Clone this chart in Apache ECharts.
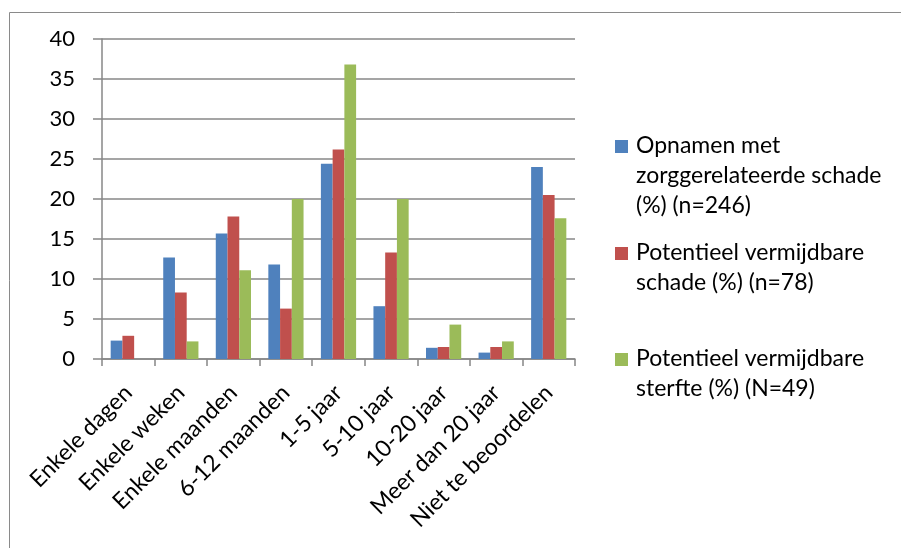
<!DOCTYPE html>
<html>
<head>
<meta charset="utf-8">
<script src="https://cdn.jsdelivr.net/npm/echarts@6/dist/echarts.min.js"></script>
<style>
html,body{margin:0;padding:0;background:#fff;}
#chart{width:901px;height:548px;}
</style>
</head>
<body>
<div id="chart"></div>
<script>
const categories = ["Enkele dagen","Enkele weken","Enkele maanden","6-12 maanden","1-5 jaar","5-10 jaar","10-20 jaar","Meer dan 20 jaar","Niet te beoordelen"];
const seriesNames = ["Opnamen met zorggerelateerde schade (%) (n=246)","Potentieel vermijdbare schade (%) (n=78)","Potentieel vermijdbare sterfte (%) (N=49)"];
const opnamen = [2.3, 12.7, 15.7, 11.8, 24.4, 6.6, 1.4, 0.8, 24.0];
const schade = [2.9, 8.3, 17.8, 6.3, 26.2, 13.3, 1.5, 1.5, 20.5];
const sterfte = [0, 2.2, 11.1, 20.0, 36.8, 20.0, 4.3, 2.2, 17.6];
const legendLines = [
  ["Opnamen met","zorggerelateerde schade","(%) (n=246)"],
  ["Potentieel vermijdbare","schade (%) (n=78)"],
  ["Potentieel vermijdbare","sterfte (%) (N=49)"]
];
const colors = ["#4F81BD","#C0504D","#9BBB59"];
const FONT = "Lato";
const GRID = "#878787";

const chart = echarts.init(document.getElementById('chart'), null, {renderer:'canvas'});
const legendTops = [146, 253, 359];
const legendGraphics = legendLines.map((lines, i) => ({
  type:'group', left: 615, top: legendTops[i] - 15,
  children:[
    {type:'rect', shape:{x:0, y:9, width:13, height:13}, style:{fill:colors[i]}},
    {type:'text', x:21, y:0, style:{text: lines.join('\n'), font: '23px "'+FONT+'"', lineHeight:30, fill:'#000', verticalAlign:'top'}}
  ]
}));

const mk = (data, i) => ({
  name: seriesNames[i], type:'bar', data: data,
  barGap: '0%', barCategoryGap: '33%',
  itemStyle:{color: colors[i]},
  emphasis:{disabled:true}
});

chart.setOption({
  animation:false,
  textStyle:{fontFamily:FONT},
  legend:{show:false},
  grid:{left:102, right:326, top:39, bottom:189, containLabel:false},
  xAxis:{
    type:'category', data: categories,
    axisLine:{show:true, lineStyle:{color:GRID, width:1.5}},
    axisTick:{show:true, length:7, alignWithLabel:false, lineStyle:{color:GRID, width:1.5}},
    axisLabel:{rotate:45, margin:30, fontSize:23, color:'#000', fontFamily:FONT, interval:0}
  },
  yAxis:{
    type:'value', min:0, max:40, interval:5,
    axisLine:{show:true, lineStyle:{color:GRID, width:1.5}},
    axisTick:{show:true, length:9, lineStyle:{color:GRID, width:1.5}},
    splitLine:{show:true, lineStyle:{color:GRID, width:1.5}},
    axisLabel:{fontSize:22, color:'#000', fontFamily:FONT, margin:27}
  },
  graphic:[
    {type:'rect', shape:{x:9.5, y:12.5, width:1200, height:1200}, style:{fill:null, stroke:'#8a8a8a', lineWidth:1}, silent:true, z:-10}
  ].concat(legendGraphics),
  series:[mk(opnamen,0), mk(schade,1), mk(sterfte,2)]
});
</script>
</body>
</html>
